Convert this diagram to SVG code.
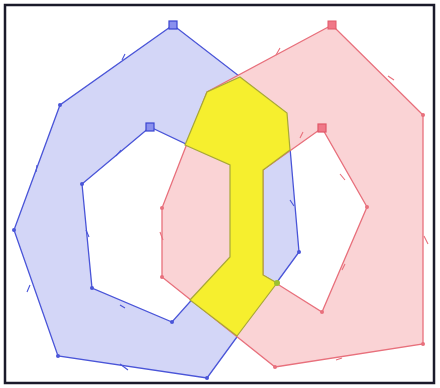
<svg xmlns="http://www.w3.org/2000/svg" width="440" height="388" viewBox="0 0 440 388">
<style>
.frame{fill:#fff;stroke:#1a1a2a;stroke-width:2.5}
.blue{fill:#d3d6f7;stroke:#4a55d8;stroke-width:1.3;fill-rule:evenodd}
.red{fill:#fad3d5;stroke:#e8707c;stroke-width:1.3;fill-rule:evenodd}
.yel{fill:#f6ef2e;stroke:#a8a838;stroke-width:1.2;fill-rule:evenodd}
.bt{fill:none;stroke:#4a55d8;stroke-width:1.1}
.rt{fill:none;stroke:#e8707c;stroke-width:1.1}
.bs{fill:#8a90ee;stroke:#3a45d0;stroke-width:1.2}
.rs{fill:#f07888;stroke:#e05868;stroke-width:1.2}
.bd{fill:#4a55d8}
.rd{fill:#e8707c}
</style>
<rect class="frame" x="5" y="5" width="429" height="378"/>
<g id="blue">
<path class="blue" d="M173,25 L60,105 L14,230 L58,356 L207,378 L299,252 L287,113 Z M150,127 L82,184 L92,288 L172,322 L230,257 L230,165 Z"/>
<circle class="bd" cx="60" cy="105" r="2"/><circle class="bd" cx="14" cy="230" r="2"/><circle class="bd" cx="58" cy="356" r="2"/><circle class="bd" cx="207" cy="378" r="2"/><circle class="bd" cx="299" cy="252" r="2"/>
<circle class="bd" cx="82" cy="184" r="2"/><circle class="bd" cx="92" cy="288" r="2"/><circle class="bd" cx="172" cy="322" r="2"/>
<rect class="bs" x="169" y="21" width="8" height="8"/>
<rect class="bs" x="146" y="123" width="8" height="8"/>
<path class="bt" d="M125,54 L122,60 M37,165 L36,172 M30,285 L27,292 M120,364 L128,370 M116,156 L121,150 M86,230 L89,237 M120,305 L125,308 M290,200 L294,206"/>
</g>
<g id="red">
<path class="red" d="M332,25 L207,92 L162,208 L162,277 L275,367 L423,344 L423,115 Z M322,128 L263,170 L263,275 L322,312 L367,207 Z"/>
<circle class="rd" cx="162" cy="208" r="2"/><circle class="rd" cx="162" cy="277" r="2"/><circle class="rd" cx="275" cy="367" r="2"/><circle class="rd" cx="423" cy="344" r="2"/><circle class="rd" cx="423" cy="115" r="2"/>
<circle class="rd" cx="367" cy="207" r="2"/><circle class="rd" cx="322" cy="312" r="2"/>
<rect class="rd" x="328" y="21" width="8" height="8" style="fill:#f07888;stroke:#e05868"/>
<rect class="rs" x="318" y="124" width="8" height="8"/>
<path class="rt" d="M280,48 L276,55 M388,76 L394,80 M424,236 L428,244 M336,360 L342,358 M160,232 L163,240 M340,174 L345,180 M342,270 L345,264 M300,138 L303,132"/>
</g>
<g id="intersection">
<path class="yel" d="M240,77 L287,113 L290,150 L263,170 L263,275 L277,283 L237,336 L190,300 L230,257 L230,165 L185,145 L207,92 Z"/>
<circle cx="277" cy="283" r="3" fill="#9cc030"/>
</g>
</svg>
